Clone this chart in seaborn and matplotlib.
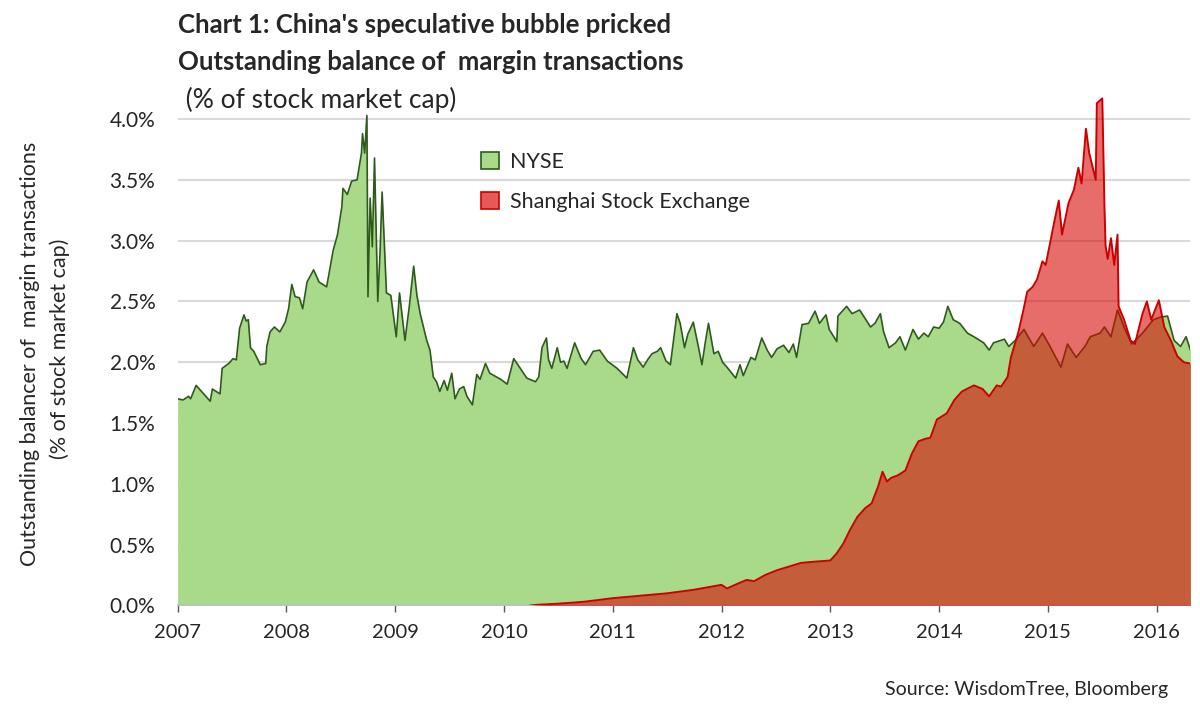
import matplotlib
matplotlib.use("Agg")
import matplotlib.pyplot as plt
import seaborn as sns
from matplotlib.patches import Patch
from matplotlib.ticker import FuncFormatter

# NYSE margin debt, % of market cap
nyse_t = [2007.00, 2007.05, 2007.10, 2007.12, 2007.17, 2007.22, 2007.30, 2007.32, 2007.39, 2007.41,
          2007.47, 2007.51, 2007.54, 2007.57, 2007.61, 2007.63, 2007.65, 2007.67, 2007.70, 2007.76,
          2007.81, 2007.82, 2007.85, 2007.89, 2007.94, 2007.99, 2008.02, 2008.05, 2008.08, 2008.12,
          2008.15, 2008.19, 2008.25, 2008.30, 2008.37, 2008.43, 2008.47, 2008.51, 2008.52, 2008.56,
          2008.60, 2008.65, 2008.69, 2008.70, 2008.72, 2008.74, 2008.75, 2008.77, 2008.79, 2008.81,
          2008.84, 2008.86, 2008.88, 2008.92, 2008.96, 2009.01, 2009.04, 2009.09, 2009.13, 2009.17,
          2009.20, 2009.23, 2009.29, 2009.32, 2009.35, 2009.38, 2009.41, 2009.45, 2009.48, 2009.52,
          2009.55, 2009.59, 2009.63, 2009.66, 2009.71, 2009.75, 2009.78, 2009.83, 2009.87, 2009.97,
          2010.03, 2010.09, 2010.15, 2010.21, 2010.29, 2010.32, 2010.35, 2010.39, 2010.41, 2010.44,
          2010.49, 2010.52, 2010.55, 2010.58, 2010.65, 2010.71, 2010.75, 2010.82, 2010.88, 2010.95,
          2011.04, 2011.13, 2011.19, 2011.23, 2011.28, 2011.32, 2011.36, 2011.41, 2011.44, 2011.49,
          2011.53, 2011.59, 2011.62, 2011.66, 2011.69, 2011.74, 2011.78, 2011.82, 2011.85, 2011.88,
          2011.93, 2011.97, 2012.01, 2012.05, 2012.13, 2012.17, 2012.20, 2012.27, 2012.31, 2012.37,
          2012.42, 2012.46, 2012.51, 2012.57, 2012.62, 2012.66, 2012.69, 2012.74, 2012.80, 2012.86,
          2012.90, 2012.96, 2012.99, 2013.06, 2013.07, 2013.15, 2013.20, 2013.27, 2013.37, 2013.41,
          2013.46, 2013.49, 2013.54, 2013.60, 2013.64, 2013.69, 2013.76, 2013.81, 2013.86, 2013.90,
          2013.95, 2014.00, 2014.04, 2014.08, 2014.13, 2014.19, 2014.26, 2014.32, 2014.41, 2014.46,
          2014.50, 2014.60, 2014.64, 2014.70, 2014.78, 2014.87, 2014.95, 2015.02, 2015.12, 2015.18,
          2015.26, 2015.34, 2015.39, 2015.48, 2015.52, 2015.58, 2015.64, 2015.70, 2015.77, 2015.87,
          2015.97, 2016.03, 2016.10, 2016.16, 2016.22, 2016.27, 2016.31]
nyse_v = [1.70, 1.69, 1.72, 1.70, 1.81, 1.76, 1.68, 1.78, 1.74, 1.95,
          1.99, 2.03, 2.02, 2.28, 2.39, 2.34, 2.35, 2.12, 2.09, 1.98,
          1.99, 2.13, 2.25, 2.29, 2.25, 2.33, 2.44, 2.64, 2.54, 2.53,
          2.44, 2.66, 2.76, 2.66, 2.62, 2.92, 3.05, 3.28, 3.43, 3.38,
          3.49, 3.50, 3.72, 3.88, 3.72, 4.03, 2.54, 3.35, 2.95, 3.68,
          2.50, 2.88, 3.40, 2.57, 2.55, 2.21, 2.57, 2.18, 2.46, 2.79,
          2.55, 2.40, 2.18, 2.10, 1.88, 1.84, 1.76, 1.85, 1.77, 1.91,
          1.70, 1.78, 1.80, 1.72, 1.65, 1.90, 1.86, 1.99, 1.91, 1.86,
          1.82, 2.03, 1.95, 1.87, 1.84, 1.88, 2.12, 2.20, 2.02, 1.95,
          2.12, 2.00, 2.01, 1.95, 2.16, 2.03, 1.98, 2.09, 2.10, 2.01,
          1.95, 1.87, 2.12, 2.02, 1.96, 2.02, 2.07, 2.09, 2.12, 2.01,
          1.98, 2.40, 2.32, 2.12, 2.23, 2.33, 2.16, 1.98, 2.16, 2.32,
          2.07, 2.09, 2.00, 1.96, 1.87, 1.98, 1.89, 2.04, 2.02, 2.20,
          2.10, 2.04, 2.11, 2.14, 2.08, 2.15, 2.04, 2.31, 2.32, 2.42,
          2.32, 2.39, 2.27, 2.17, 2.38, 2.46, 2.40, 2.43, 2.29, 2.32,
          2.40, 2.25, 2.12, 2.16, 2.21, 2.10, 2.27, 2.19, 2.24, 2.21,
          2.29, 2.28, 2.33, 2.46, 2.35, 2.32, 2.24, 2.21, 2.16, 2.10,
          2.16, 2.19, 2.13, 2.18, 2.27, 2.13, 2.24, 2.13, 1.96, 2.15,
          2.04, 2.13, 2.21, 2.24, 2.29, 2.21, 2.43, 2.29, 2.15, 2.24,
          2.35, 2.37, 2.38, 2.18, 2.13, 2.21, 2.10]

# Shanghai Stock Exchange margin balance, % of market cap
sse_t = [2010.24, 2010.30, 2010.50, 2010.73, 2011.00, 2011.25, 2011.50, 2011.75, 2012.00, 2012.05,
         2012.15, 2012.23, 2012.30, 2012.40, 2012.51, 2012.62, 2012.73, 2012.85, 2013.00, 2013.06,
         2013.12, 2013.18, 2013.25, 2013.32, 2013.38, 2013.44, 2013.48, 2013.52, 2013.56, 2013.62,
         2013.69, 2013.75, 2013.81, 2013.87, 2013.92, 2013.98, 2014.07, 2014.14, 2014.21, 2014.32,
         2014.40, 2014.46, 2014.53, 2014.57, 2014.63, 2014.66, 2014.73, 2014.78, 2014.81, 2014.86,
         2014.90, 2014.95, 2014.98, 2015.02, 2015.06, 2015.10, 2015.13, 2015.19, 2015.24, 2015.28,
         2015.31, 2015.35, 2015.38, 2015.41, 2015.44, 2015.45, 2015.50, 2015.52, 2015.53, 2015.55,
         2015.58, 2015.61, 2015.64, 2015.65, 2015.70, 2015.76, 2015.80, 2015.87, 2015.91, 2015.95,
         2016.02, 2016.07, 2016.13, 2016.19, 2016.25, 2016.31]
sse_v = [0.00, 0.005, 0.015, 0.03, 0.06, 0.08, 0.10, 0.13, 0.17, 0.14,
         0.18, 0.21, 0.20, 0.25, 0.29, 0.32, 0.35, 0.36, 0.37, 0.43,
         0.51, 0.62, 0.73, 0.80, 0.84, 0.98, 1.10, 1.02, 1.05, 1.07,
         1.11, 1.25, 1.35, 1.37, 1.38, 1.53, 1.58, 1.69, 1.76, 1.81,
         1.78, 1.72, 1.81, 1.80, 1.88, 2.04, 2.25, 2.45, 2.58, 2.62,
         2.68, 2.83, 2.80, 2.98, 3.16, 3.33, 3.05, 3.31, 3.42, 3.60,
         3.47, 3.92, 3.72, 3.61, 3.50, 4.13, 4.17, 3.28, 2.96, 2.85,
         3.02, 2.80, 3.05, 2.46, 2.35, 2.18, 2.15, 2.40, 2.50, 2.35,
         2.51, 2.29, 2.18, 2.05, 2.00, 1.99]

years = list(range(2007, 2017))
yticks = [0.0, 0.5, 1.0, 1.5, 2.0, 2.5, 3.0, 3.5, 4.0]

sns.set_theme(style="white")
plt.rcParams['font.family'] = ['Lato', 'DejaVu Sans']

fig = plt.figure(figsize=(12, 7.09), dpi=100)
ax = fig.add_axes([0.148, 0.146, 0.844, 0.7375])

green_fill = '#a9da8a'
green_line = '#2e5a1c'
red_fill = (0.843, 0.01, 0.0, 0.58)
red_line = '#cc0000'

ax.fill_between(nyse_t, nyse_v, 0, color=green_fill, lw=0, zorder=2)
sns.lineplot(x=nyse_t, y=nyse_v, ax=ax, color=green_line, lw=1.2, estimator=None, zorder=3)
ax.fill_between(sse_t, sse_v, 0, color=red_fill, lw=0, zorder=4)
sns.lineplot(x=sse_t, y=sse_v, ax=ax, color=red_line, lw=1.4, estimator=None, zorder=5)

ax.set_xlim(2007, 2016.31)
ax.set_ylim(0, 4.3)
ax.set_xticks(years)
ax.set_xticklabels([str(y) for y in years], fontsize=14.5)
ax.set_yticks(yticks)
ax.yaxis.set_major_formatter(FuncFormatter(lambda v, p: f"{v:.1f}%"))
ax.tick_params(axis='y', labelsize=15, length=0, pad=16)
ax.tick_params(axis='x', length=5, width=1, color='#595959', direction='out', bottom=True, pad=8)
ax.yaxis.grid(True, color='#d9d9d9', lw=1.5, zorder=1)
for s in ['top', 'right', 'left']:
    ax.spines[s].set_visible(False)
ax.spines['bottom'].set_color('#bfbfbf')
ax.set_axisbelow(True)
ax.set_xlabel('')
ax.set_ylabel('')

handles = [Patch(facecolor=green_fill, edgecolor=green_line, lw=1.2, label='NYSE'),
           Patch(facecolor=(0.9, 0.35, 0.35), edgecolor=red_line, lw=1.2, label='Shanghai Stock Exchange')]
ax.legend(handles=handles, loc='upper left', bbox_to_anchor=(0.28, 0.905), frameon=False,
          fontsize=15.5, handlelength=0.85, handleheight=0.85, labelspacing=0.95, handletextpad=0.5)

fig.text(178 / 1200, 1 - 25 / 709, "Chart 1: China's speculative bubble pricked",
         fontsize=18.5, fontweight='bold', va='center', ha='left')
fig.text(178 / 1200, 1 - 62 / 709, "Outstanding balance of  margin transactions",
         fontsize=18.5, fontweight='bold', va='center', ha='left')
fig.text(179 / 1200, 1 - 100 / 709, " (% of stock market cap)",
         fontsize=19, va='center', ha='left')

fig.text(30 / 1200, 1 - 354 / 709, "Outstanding balancer of  margin transactions",
         fontsize=15.5, rotation=90, va='center', ha='center')
fig.text(60 / 1200, 1 - 349 / 709, "(% of stock market cap)",
         fontsize=15.5, rotation=90, va='center', ha='center')

fig.text(1168 / 1200, 1 - 689 / 709, "Source: WisdomTree, Bloomberg",
         fontsize=14, va='center', ha='right')

fig.savefig('out.png', dpi=100)
